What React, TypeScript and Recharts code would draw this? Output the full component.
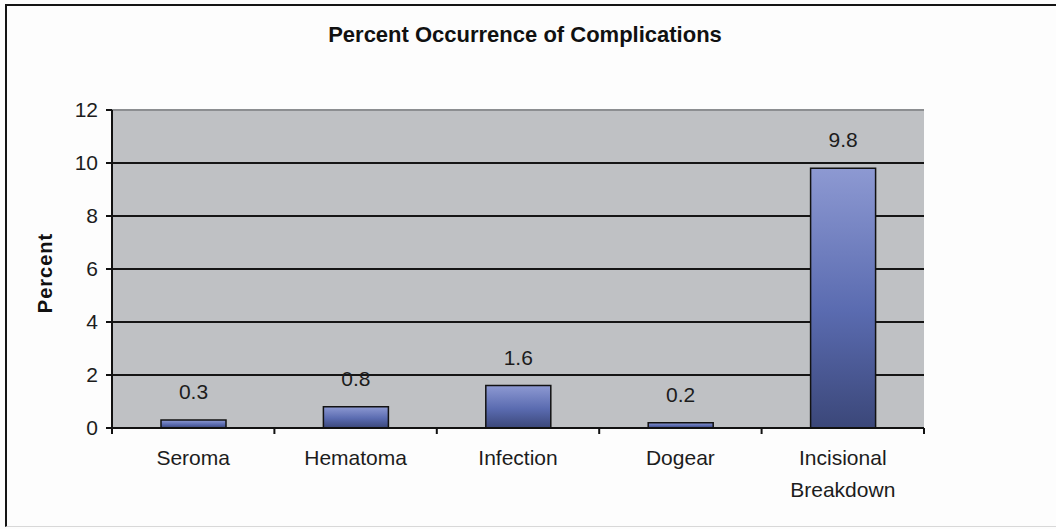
import React from 'react';
import {
  BarChart,
  Bar,
  XAxis,
  YAxis,
  CartesianGrid,
  ReferenceLine,
  LabelList,
} from 'recharts';

// Complication categories and their percent occurrence
const categories = ['Seroma', 'Hematoma', 'Infection', 'Dogear', 'Incisional Breakdown'];
const percentValues = [0.3, 0.8, 1.6, 0.2, 9.8];
const yTicks = [0, 2, 4, 6, 8, 10, 12];

const chartTitle = 'Percent Occurrence of Complications';
const yAxisTitle = 'Percent';

const data = categories.map((name, i) => ({ name, value: percentValues[i] }));

const WIDTH = 1056;
const HEIGHT = 529;
const Y_AXIS_WIDTH = 60;
const X_AXIS_HEIGHT = 60;
const margin = { top: 110, right: 132, bottom: 41, left: 52 };
const plotWidth = WIDTH - margin.left - Y_AXIS_WIDTH - margin.right;
const bandWidth = plotWidth / categories.length;

const FONT = '"Liberation Sans", Arial, Helvetica, sans-serif';
const TEXT_COLOR = '#1c1c1c';

// Category label centred under each bar (one word per line for multi-word
// names), with tick marks on the band edges
const CategoryTick = (props: any) => {
  const { x, y, payload, index } = props;
  const left = x - bandWidth / 2;
  const right = x + bandWidth / 2;
  const lines = String(payload.value).split(' ');
  return (
    <g>
      <line x1={left} y1={y} x2={left} y2={y + 6} stroke="#111" strokeWidth={2} />
      {index === categories.length - 1 && (
        <line x1={right} y1={y} x2={right} y2={y + 6} stroke="#111" strokeWidth={2} />
      )}
      <text
        x={x}
        y={y + 37}
        textAnchor="middle"
        fontSize={21}
        fontFamily={FONT}
        fill={TEXT_COLOR}
      >
        {lines.map((word, i) => (
          <tspan key={i} x={x} dy={i === 0 ? 0 : 32}>
            {word}
          </tspan>
        ))}
      </text>
    </g>
  );
};

export default function App() {
  return (
    <div
      style={{
        position: 'absolute',
        left: 0,
        top: 0,
        width: WIDTH,
        height: HEIGHT,
        background: '#fdfdfd',
        overflow: 'hidden',
      }}
    >
      {/* outer frame */}
      <div
        style={{
          position: 'absolute',
          left: 5,
          top: 4,
          width: WIDTH,
          height: HEIGHT - 6,
          borderLeft: '2px solid #151515',
          borderTop: '2px solid #151515',
          borderBottom: '1px solid #d8d8d8',
          boxSizing: 'border-box',
        }}
      />
      <BarChart
        width={WIDTH}
        height={HEIGHT}
        data={data}
        margin={margin}
        style={{ position: 'absolute', left: 0, top: 0 }}
      >
        <defs>
          <linearGradient id="barFill" x1="0" y1="0" x2="0" y2="1">
            <stop offset="0%" stopColor="#8d99d2" />
            <stop offset="55%" stopColor="#5a6bb0" />
            <stop offset="100%" stopColor="#3b4779" />
          </linearGradient>
        </defs>
        <CartesianGrid
          vertical={false}
          stroke="#151515"
          strokeWidth={2}
          fill="#bfc1c4"
          fillOpacity={1}
        />
        <XAxis
          dataKey="name"
          height={X_AXIS_HEIGHT}
          interval={0}
          tickLine={false}
          tickSize={0}
          tickMargin={0}
          axisLine={{ stroke: '#111', strokeWidth: 2 }}
          tick={<CategoryTick />}
        />
        <YAxis
          type="number"
          domain={[0, 12]}
          ticks={yTicks}
          interval={0}
          width={Y_AXIS_WIDTH}
          tickSize={6}
          tickMargin={8}
          axisLine={{ stroke: '#111', strokeWidth: 2 }}
          tickLine={{ stroke: '#111', strokeWidth: 2 }}
          tick={{ fontSize: 21, fontFamily: FONT, fill: TEXT_COLOR }}
        />
        <YAxis
          yAxisId="frame"
          orientation="right"
          width={0}
          domain={[0, 12]}
          tick={false}
          tickLine={false}
          axisLine={{ stroke: '#8c8e91', strokeWidth: 2 }}
        />
        <ReferenceLine y={12} stroke="#8c8e91" strokeWidth={2} />
        <Bar
          dataKey="value"
          barSize={65}
          fill="url(#barFill)"
          stroke="#121212"
          strokeWidth={1.5}
          isAnimationActive={false}
        >
          <LabelList
            dataKey="value"
            position="top"
            offset={21}
            fontSize={21}
            fontFamily={FONT}
            fill={TEXT_COLOR}
          />
        </Bar>
      </BarChart>
      <svg
        width={WIDTH}
        height={HEIGHT}
        style={{ position: 'absolute', left: 0, top: 0, pointerEvents: 'none' }}
      >
        <text
          x={525}
          y={42}
          textAnchor="middle"
          fontSize={22}
          fontWeight="bold"
          fontFamily={FONT}
          fill="#111"
        >
          {chartTitle}
        </text>
        <text
          x={52}
          y={273}
          transform="rotate(-90 52 273)"
          textAnchor="middle"
          fontSize={20}
          fontWeight="bold"
          letterSpacing={1}
          fontFamily={FONT}
          fill="#111"
        >
          {yAxisTitle}
        </text>
      </svg>
    </div>
  );
}
